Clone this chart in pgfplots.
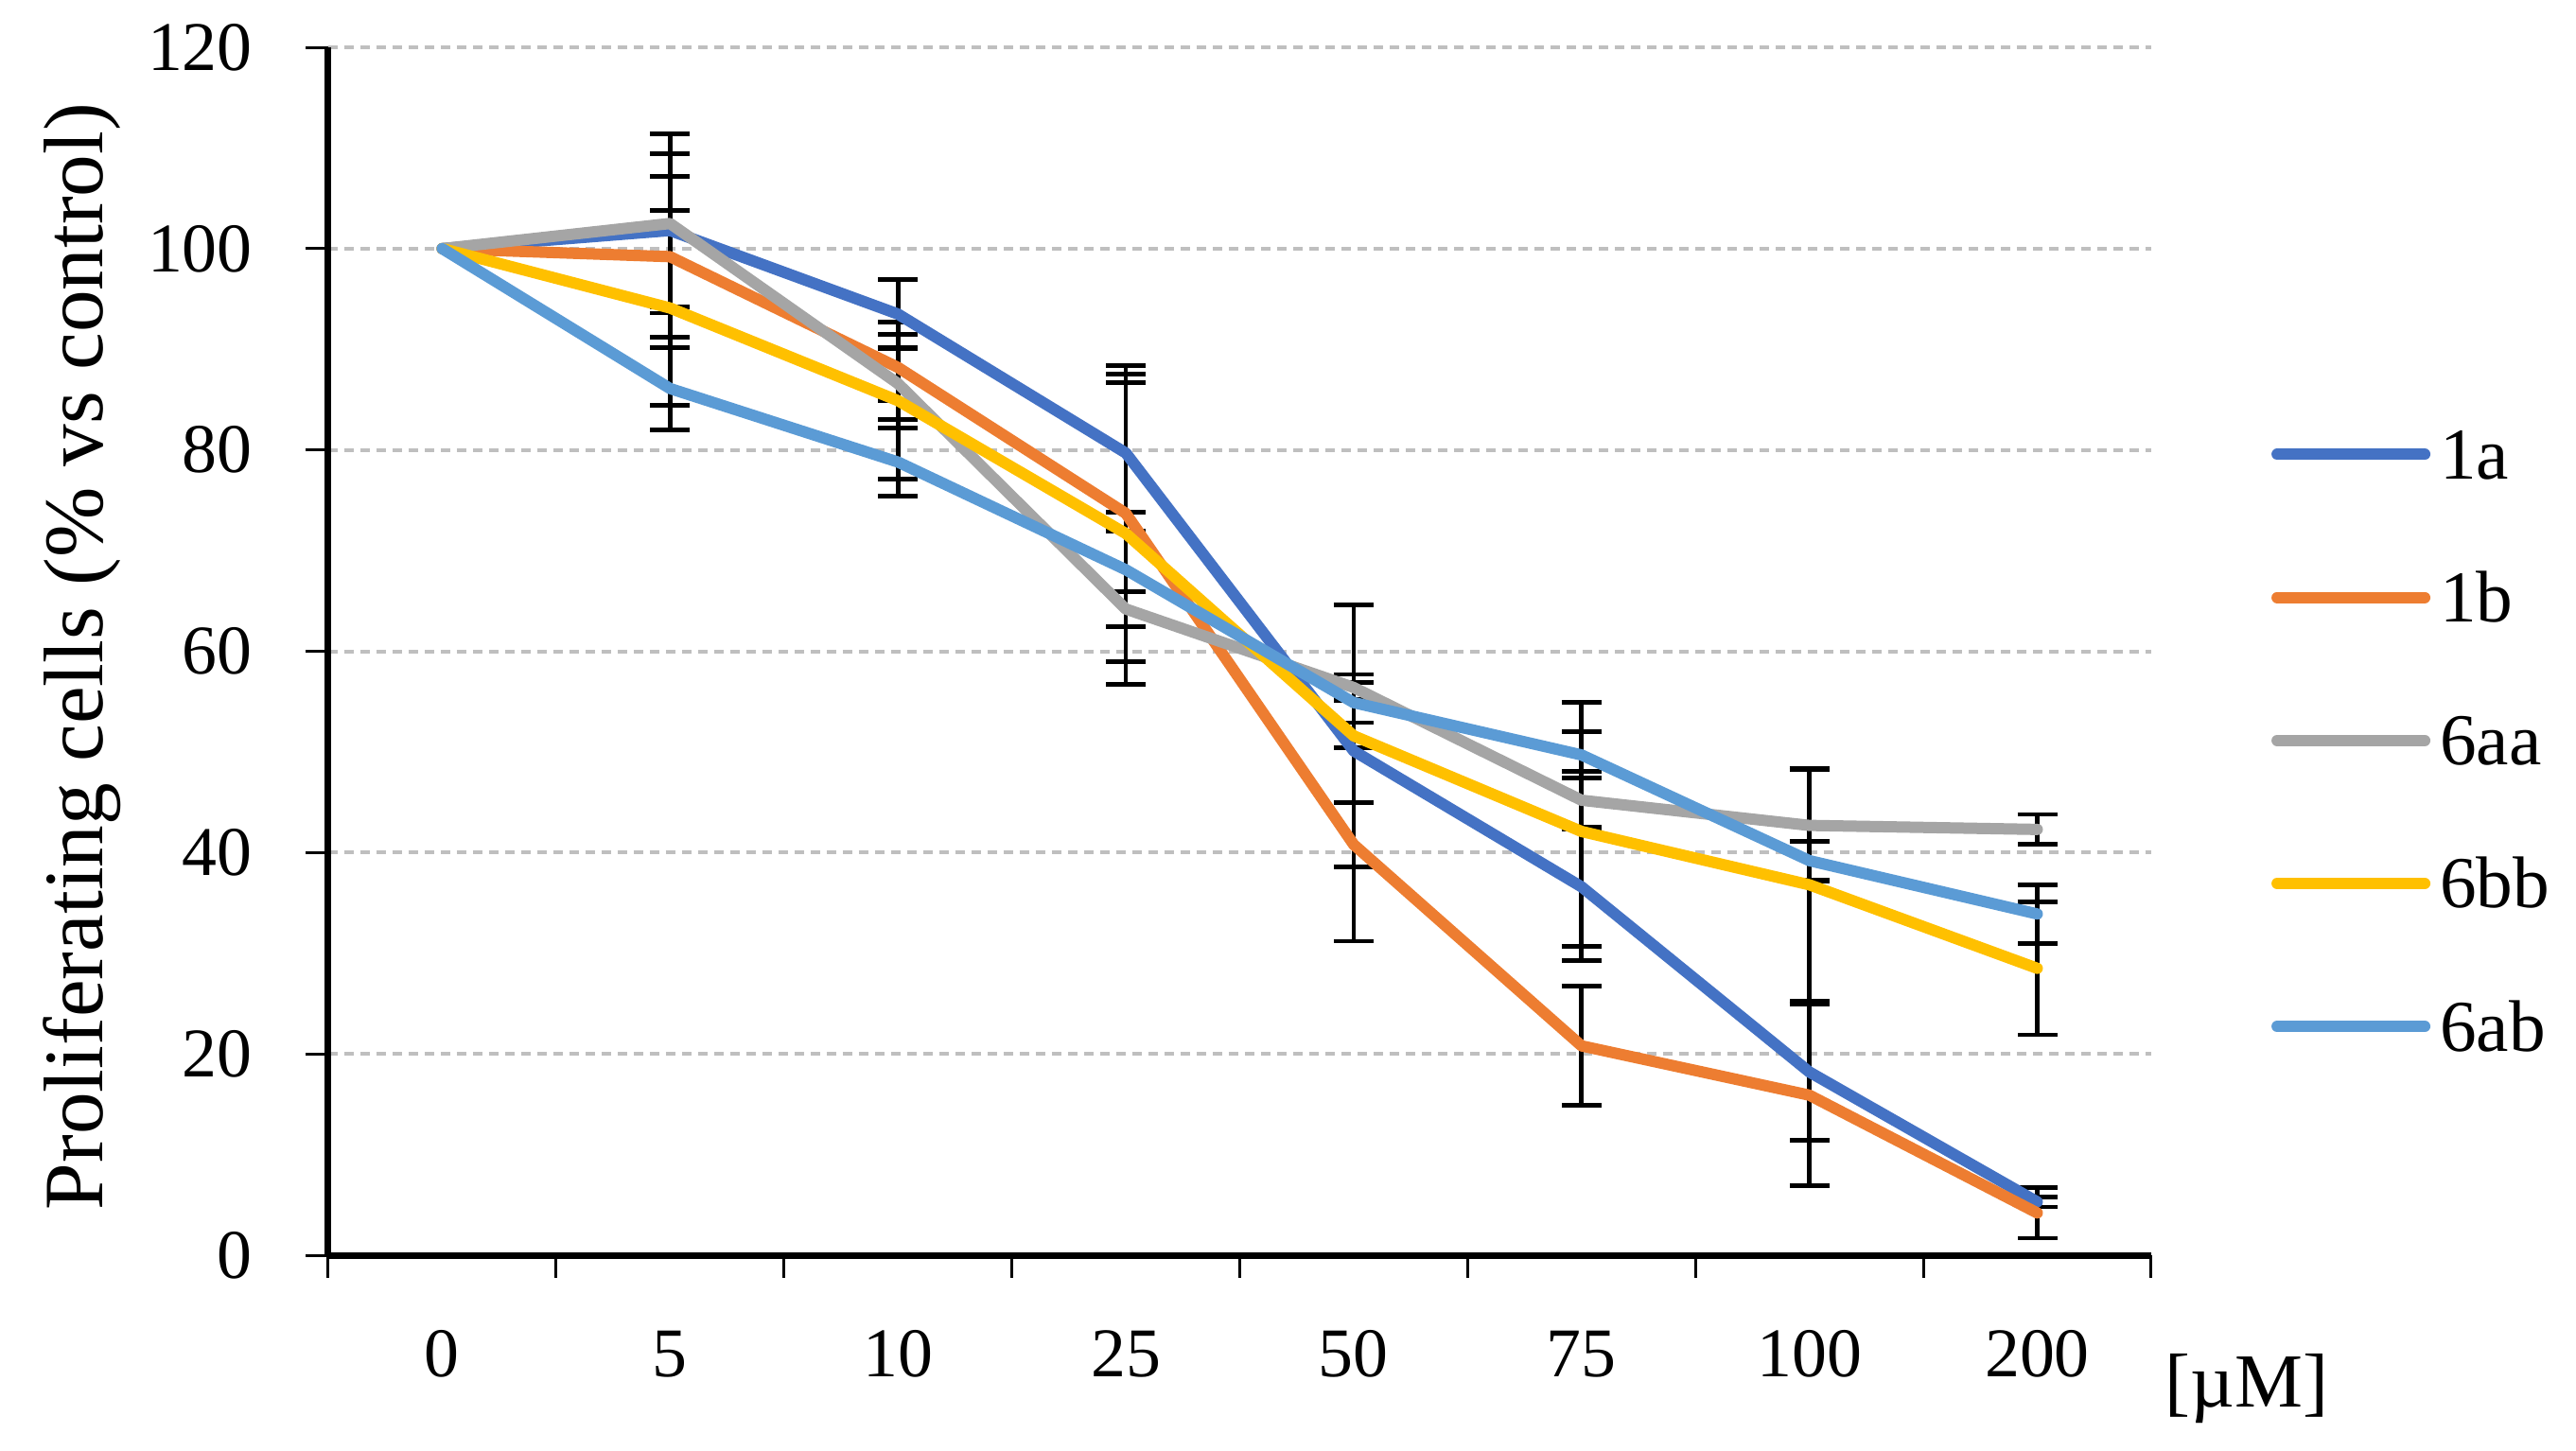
\documentclass[border=0pt]{standalone}
\usepackage{fontspec}
\setmainfont{Liberation Serif}
\usepackage{pgfplots}
\pgfplotsset{compat=1.18}
\usepackage{pgfplotstable}

\definecolor{c1a}{HTML}{4472C4}
\definecolor{c1b}{HTML}{ED7D31}
\definecolor{c6aa}{HTML}{A5A5A5}
\definecolor{c6bb}{HTML}{FFC000}
\definecolor{c6ab}{HTML}{5B9BD5}
\definecolor{gridgray}{HTML}{BFBFBF}

% x = category index (0,5,10,25,50,75,100,200 uM); eX = error
\pgfplotstableread{
x   a     ea   b    eb   c     ec   d    ed   f    ef
0   100   0    100  0    100   0    100  0    100  0
1   101.8 7.6  99.2 8.0  102.5 8.9  94.1 9.7  86.1 4.1
2   93.5  3.4  88.2 3.3  86.6  3.6  84.9 7.8  78.8 3.4
3   79.7  7.8  73.7 14.7 64.2  1.7  71.7 15.0 68.1 5.7
4   50.1  5.1  40.8 9.6  56.4  1.3  51.6 13.0 54.9 2.0
5   36.6  5.9  20.8 5.9  45.2  2.9  42.1 12.8 49.7 2.3
6   18.2  6.8  15.9 9.0  42.7  5.5  36.8 11.6 39.2 1.9
7   5.3   0.5  4.2  2.5  42.3  1.5  28.5 6.6  33.9 2.9
}\data

\pgfplotsset{
  errplot/.style={draw=none, mark=none, forget plot,
    restrict x to domain=0.5:7.5,
    error bars/.cd, y dir=both, y explicit, error mark=-,
    error bar style={draw=black, solid, line width=0.24mm},
    error mark options={rotate=90, draw=black, solid, line width=0.24mm, mark size=1.05mm}},
  serie/.style={#1, line width=0.6mm, line join=round, line cap=round, mark=none},
}

\begin{document}
\begin{tikzpicture}
\useasboundingbox (0,0) rectangle (136.15mm,76.65mm);
\begin{axis}[
  at={(17.35mm,10.3mm)}, anchor=south west,
  width=96.35mm, height=63.85mm, scale only axis,
  xmin=-0.5, xmax=7.5, ymin=0, ymax=120,
  xtick={0,...,7},
  xticklabels={0,5,10,25,50,75,100,200},
  minor xtick={-0.5,0.5,...,7.5},
  ytick={0,20,...,120},
  major x tick style={draw=none},
  axis lines*=left,
  axis line style={line width=0.35mm, black},
  tick align=outside,
  major tick length=1.2mm, minor tick length=1.2mm,
  tick style={black, line width=0.15mm},
  ymajorgrids,
  grid style={gridgray, line width=0.2mm, dash pattern=on 0.5mm off 0.35mm},
  /pgf/number format/assume math mode=true,
  tick label style={font=\fontsize{10.5}{12}\selectfont},
  xticklabel style={yshift=-1.55mm},
  yticklabel style={xshift=-1.57mm},
  ylabel={Proliferating cells (\% vs control)},
  ylabel style={at={(axis description cs:-0.124,0.4957)}, anchor=base,
    font=\fontsize{12.7}{14}\selectfont},
  xlabel={{[µM]}},
  xlabel style={at={(axis description cs:1.0524,-0.126)}, anchor=base,
    font=\fontsize{11.5}{13}\selectfont},
  legend style={draw=none, fill=none, inner sep=0pt, outer sep=0pt,
    at={(axis description cs:1.066,0.4262)}, anchor=west,
    row sep=4.96mm, column sep=0.5mm,
    nodes={inner sep=0pt, text height=2.6mm, text depth=0mm,
      font=\fontsize{11}{13}\selectfont}},
  legend cell align=left,
  legend image code/.code={\draw[#1, line width=0.6mm, line cap=round] (0mm,0mm) -- (7.8mm,0mm);},
]
% error bars first, so the lines lie over them
\addplot[errplot] table[x=x, y=a, y error=ea] {\data};
\addplot[errplot] table[x=x, y=b, y error=eb] {\data};
\addplot[errplot] table[x=x, y=c, y error=ec] {\data};
\addplot[errplot] table[x=x, y=d, y error=ed] {\data};
\addplot[errplot] table[x=x, y=f, y error=ef] {\data};

\addplot[serie=c1a]  table[x=x, y=a] {\data}; \addlegendentry{1a}
\addplot[serie=c1b]  table[x=x, y=b] {\data}; \addlegendentry{1b}
\addplot[serie=c6aa] table[x=x, y=c] {\data}; \addlegendentry{6aa}
\addplot[serie=c6bb] table[x=x, y=d] {\data}; \addlegendentry{6bb}
\addplot[serie=c6ab] table[x=x, y=f] {\data}; \addlegendentry{6ab}
\end{axis}
\end{tikzpicture}
\end{document}
